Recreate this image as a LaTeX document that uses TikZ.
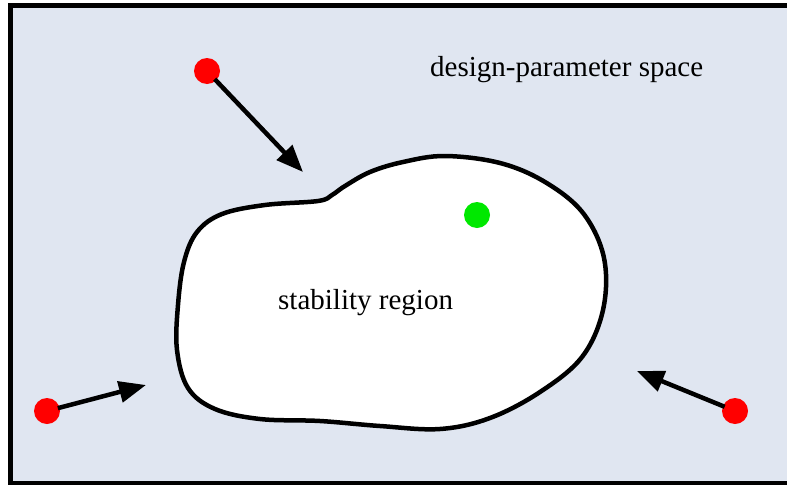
\documentclass[tikz,border=0pt]{standalone}
\usepackage{fontspec}
\setmainfont{Liberation Serif}
\usetikzlibrary{arrows.meta}
\definecolor{bgfill}{RGB}{224,230,241}
\definecolor{dotred}{RGB}{255,0,0}
\definecolor{dotgreen}{RGB}{0,232,0}
\tikzset{
  reddot/.style={circle,fill=dotred,minimum size=26pt,inner sep=0pt,draw=none},
  greendot/.style={circle,fill=dotgreen,minimum size=26pt,inner sep=0pt,draw=none},
  arr/.style={line width=4.5pt,-{Triangle[length=27pt,width=21pt]},shorten <=-2pt},
  lbl/.style={font=\fontsize{29}{34}\selectfont,inner sep=0pt,anchor=base west},
}
\begin{document}
\begin{tikzpicture}[x=1pt,y=-1pt]
\useasboundingbox (0,0) rectangle (787,490);
\clip (0,0) rectangle (787,490);
\draw[line width=4.5pt,fill=bgfill] (10.5,5.5) rectangle (820,483);
\draw[line width=4.5pt,fill=white] plot[smooth cycle,tension=0.6] coordinates {
 (178,305) (184,262) (197,232) (222,214) (265,205) (318,201) (332,195)
 (345,186) (370,172) (403,162) (445,156) (500,163) (545,182) (583,213)
 (604,258) (603,310) (582,357) (540,392) (490,418) (440,429) (380,426)
 (320,421) (260,419) (215,409) (188,388) (177,350)};
\node[greendot] (g) at (477,215) {};
\node[reddot] (r1) at (207,71) {};
\node[reddot] (r2) at (47,411) {};
\node[reddot] (r3) at (735,411) {};
\coordinate (t1) at (303,172);
\coordinate (t2) at (146,385);
\coordinate (t3) at (637,371);
\draw[arr] (r1) -- (t1);
\draw[arr] (r2) -- (t2);
\draw[arr] (r3) -- (t3);
\node[lbl] (space) at (430,76) {design-parameter space};
\node[lbl] (region) at (278,309) {stability region};
\end{tikzpicture}
\end{document}
